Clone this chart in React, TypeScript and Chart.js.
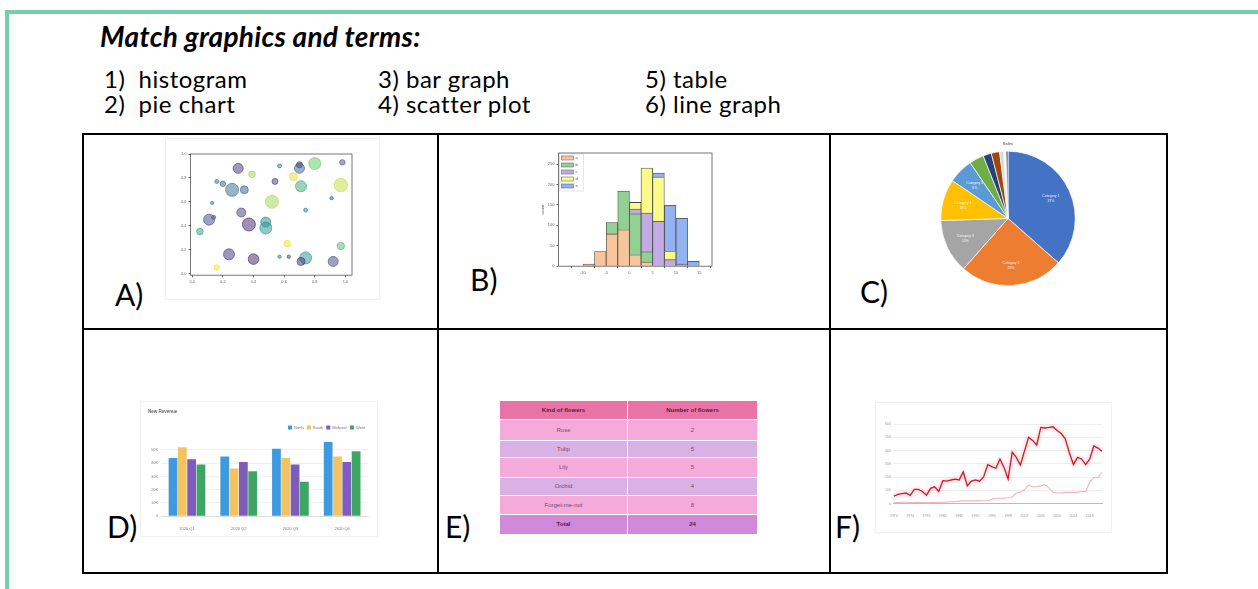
import React, { useEffect, useRef } from "react";
import { Chart, registerables } from "chart.js";
Chart.register(...registerables);

// ---------- A) scatter plot ----------
const scatterX = [0.30, 0.39, 0.57, 0.70, 0.70, 0.80, 0.98, 0.66, 0.54, 0.16, 0.20, 0.26, 0.34, 0.71, 0.97, 0.52, 0.13, 0.91, 0.32, 0.74, 0.11, 0.14, 0.37, 0.48, 0.48, 0.05, 0.62, 0.97, 0.24, 0.40, 0.57, 0.63, 0.74, 0.71, 0.92, 0.16];
const scatterY = [0.88, 0.83, 0.90, 0.88, 0.91, 0.92, 0.93, 0.81, 0.77, 0.77, 0.75, 0.70, 0.70, 0.73, 0.74, 0.60, 0.59, 0.63, 0.51, 0.53, 0.45, 0.47, 0.41, 0.43, 0.38, 0.35, 0.25, 0.23, 0.16, 0.12, 0.14, 0.14, 0.13, 0.10, 0.10, 0.05];
const scatterSize = [5, 3.3, 2, 5, 3, 6, 2.7, 4, 3, 2, 2.7, 6.5, 4, 5.5, 6.7, 6.5, 1.7, 1.7, 4.5, 2, 5.5, 2, 6.5, 5, 6, 3.3, 3.3, 3.7, 5.5, 5.3, 1.7, 1.7, 6, 4, 5, 2.7];
const scatterColorValue = [0.15, 0.85, 0.45, 0.3, 0.2, 0.75, 0.25, 0.95, 0.2, 0.4, 0.3, 0.35, 0.3, 0.6, 0.9, 0.85, 0.4, 0.3, 0.2, 0.45, 0.2, 0.3, 0.1, 0.45, 0.5, 0.55, 0.97, 0.7, 0.15, 0.1, 0.4, 0.2, 0.5, 0.15, 0.2, 0.97];
const scatterTicks = [0, 0.2, 0.4, 0.6, 0.8, 1.0];

// ---------- B) histogram ----------
const histBinCenters = [-11.25, -8.75, -6.25, -3.75, -1.25, 1.25, 3.75, 6.25, 8.75, 11.25, 13.75];
const histTicks = [-10, -5, 0, 5, 10, 15];
const histCountTicks = [0, 50, 100, 150, 200, 250];
const histSeriesNames = ["a", "b", "c", "d", "e"];
const histOrange = [0, 5, 36, 79, 89, 28, 10, 0, 0, 0, 0];
const histGreen = [0, 0, 0, 28, 95, 100, 25, 0, 0, 0, 0];
const histPurple = [0, 0, 0, 0, 0, 12, 95, 110, 16, 5, 0];
const histYellow = [0, 0, 0, 0, 0, 16, 110, 108, 20, 0, 0];
const histBlue = [0, 0, 0, 0, 0, 0, 0, 10, 113, 112, 12];

// ---------- C) pie chart ----------
const pieTitle = "Sales";
const pieLabels = ["Category 1", "Category 2", "Category 3", "Category 4", "Category 5", "Category 6", "Category 7", "Category 8", "Category 9", "Category 10", "Category 11"];
const pieValues = [36.5, 25, 13, 10, 6, 3.5, 2, 2, 1, 0.5, 0.5];

// ---------- D) bar graph ----------
const barTitle = "New Revenue";
const barQuarters = ["2020 Q1", "2020 Q2", "2020 Q3", "2020 Q4"];
const barSeriesNames = ["North", "South", "Midwest", "West"];
const barTicks = [0, 10, 20, 30, 40, 50];
const barNorth = [44, 45, 51, 56];
const barSouth = [52, 36, 44, 45];
const barMidwest = [43, 41, 39, 41];
const barWest = [39, 34, 26, 49];

// ---------- E) table ----------
const tableHeader = ["Kind of flowers", "Number of flowers"];
const tableKinds = ["Rose", "Tulip", "Lily", "Orchid", "Forget-me-not"];
const tableCounts = [2, 5, 5, 4, 8];
const tableTotalLabel = "Total";

// ---------- F) line graph ----------
const lineLabels = Array.from({ length: 52 }, (_, i) => String(1970 + i));
const lineTicks = [0, 100, 200, 300, 400, 500, 600];
const lineRed = [58, 70, 77, 81, 63, 109, 109, 93, 65, 116, 128, 93, 174, 170, 179, 186, 179, 240, 135, 170, 179, 170, 202, 295, 279, 267, 337, 272, 186, 388, 349, 291, 395, 500, 477, 442, 574, 570, 574, 579, 551, 528, 488, 384, 295, 349, 337, 295, 337, 435, 419, 395];
const linePink = [8, 10, 12, 12, 10, 10, 12, 10, 8, 10, 10, 12, 12, 14, 15, 16, 20, 22, 22, 22, 22, 22, 23, 23, 35, 42, 42, 42, 45, 51, 81, 86, 105, 140, 128, 128, 135, 144, 120, 86, 81, 81, 86, 86, 86, 86, 93, 93, 163, 198, 198, 237];

// ---------- terms ----------
const titleText = "Match graphics and terms:";
const termsCol1 = ["1)  histogram", "2)  pie chart"];
const termsCol2 = ["3) bar graph", "4) scatter plot"];
const termsCol3 = ["5) table", "6) line graph"];
const cellLabels = ["A)", "B)", "C)", "D)", "E)", "F)"];

const viridisStops = [[68, 1, 84], [59, 82, 139], [33, 145, 140], [94, 201, 98], [253, 231, 37]];
function viridis(t: number, a: number) {
  const p = Math.max(0, Math.min(1, t)) * (viridisStops.length - 1);
  const i = Math.min(viridisStops.length - 2, Math.floor(p));
  const f = p - i;
  const c = viridisStops[i].map((v, k) => Math.round(v + (viridisStops[i + 1][k] - v) * f));
  return `rgba(${c[0]},${c[1]},${c[2]},${a})`;
}

const tinyFont = { family: "Liberation Sans", size: 4 };

const framePlugin = {
  id: "frame",
  afterDraw(chart: any, _a: any, opts: any) {
    if (!opts || !opts.color) return;
    const { ctx, chartArea } = chart;
    ctx.save();
    ctx.strokeStyle = opts.color;
    ctx.lineWidth = opts.width || 1;
    ctx.strokeRect(chartArea.left, chartArea.top, chartArea.right - chartArea.left, chartArea.bottom - chartArea.top);
    ctx.restore();
  },
};

const histLegendPlugin = {
  id: "histLegend",
  afterDatasetsDraw(chart: any) {
    const { ctx, chartArea } = chart;
    const ds = chart.data.datasets;
    ctx.save();
    const x0 = chartArea.left + 1;
    const y0 = chartArea.top + 1;
    const rowH = 7;
    ctx.fillStyle = "rgba(255,255,255,0.8)";
    ctx.strokeStyle = "#ccc";
    ctx.lineWidth = 0.5;
    ctx.fillRect(x0, y0, 24, rowH * ds.length + 2);
    ctx.strokeRect(x0, y0, 24, rowH * ds.length + 2);
    ds.forEach((d: any, i: number) => {
      ctx.fillStyle = d.backgroundColor;
      ctx.fillRect(x0 + 2, y0 + 2 + i * rowH, 12, 4);
      ctx.strokeStyle = "#555";
      ctx.strokeRect(x0 + 2, y0 + 2 + i * rowH, 12, 4);
      ctx.fillStyle = "#444";
      ctx.font = "4px Liberation Sans";
      ctx.textBaseline = "top";
      ctx.fillText(d.label, x0 + 16, y0 + 2 + i * rowH);
    });
    ctx.restore();
  },
};

const pieLabelPlugin = {
  id: "pieLabels",
  afterDatasetsDraw(chart: any) {
    const { ctx } = chart;
    const meta = chart.getDatasetMeta(0);
    const vals = chart.data.datasets[0].data;
    const total = vals.reduce((s: number, v: number) => s + v, 0);
    ctx.save();
    ctx.fillStyle = "rgba(255,255,255,0.9)";
    ctx.font = "3.5px Liberation Sans";
    ctx.textAlign = "center";
    ctx.textBaseline = "middle";
    meta.data.forEach((arc: any, i: number) => {
      if (vals[i] < 5) return;
      const r = arc.outerRadius;
      const ang = (arc.startAngle + arc.endAngle) / 2;
      const px = arc.x + Math.cos(ang) * r * 0.7;
      const py = arc.y + Math.sin(ang) * r * 0.7;
      ctx.fillText(chart.data.labels[i], px, py - 2.5);
      ctx.fillText(Math.round((vals[i] / total) * 100) + "%", px, py + 2.5);
    });
    ctx.restore();
  },
};

const glowPlugin = {
  id: "glow",
  beforeDatasetDraw(chart: any, args: any) {
    if (args.index === 0) {
      chart.ctx.save();
      chart.ctx.shadowColor = "rgba(255,90,110,0.7)";
      chart.ctx.shadowBlur = 4;
    }
  },
  afterDatasetDraw(chart: any, args: any) {
    if (args.index === 0) chart.ctx.restore();
  },
};

function scatterConfig(): any {
  return {
    type: "bubble",
    data: {
      datasets: [
        {
          data: scatterX.map((x, i) => ({ x, y: scatterY[i], r: scatterSize[i] })),
          backgroundColor: scatterColorValue.map((c) => viridis(c, 0.5)),
          borderColor: scatterColorValue.map((c) => viridis(c, 0.75)),
          borderWidth: 0.8,
        },
      ],
    },
    options: {
      animation: false,
      responsive: false,
      devicePixelRatio: 1,
      layout: { padding: { left: 13, right: 27, top: 15, bottom: 13 } },
      plugins: { legend: { display: false }, tooltip: { enabled: false }, frame: { color: "#555", width: 0.8 } },
      scales: {
        x: {
          type: "linear", min: -0.011, max: 1.043,
          afterBuildTicks: (s: any) => { s.ticks = scatterTicks.map((v) => ({ value: v })); },
          ticks: { font: tinyFont, color: "#666", padding: 2, callback: (v: any) => Number(v).toFixed(1) },
          grid: { drawOnChartArea: false, tickLength: 2, color: "#666" },
          border: { display: false },
        },
        y: {
          type: "linear", min: -0.015, max: 1.0,
          afterBuildTicks: (s: any) => { s.ticks = scatterTicks.map((v) => ({ value: v })); },
          ticks: { font: tinyFont, color: "#666", padding: 2, callback: (v: any) => Number(v).toFixed(1) },
          grid: { drawOnChartArea: false, tickLength: 2, color: "#666" },
          border: { display: false },
        },
      },
    },
    plugins: [framePlugin],
  };
}

function histConfig(): any {
  const series = [histOrange, histGreen, histPurple, histYellow, histBlue];
  const colors = ["#f6c59c", "#93d193", "#c2abe2", "#fbfb88", "#92b2f0"];
  return {
    type: "bar",
    data: {
      datasets: series.map((s, k) => ({
        label: histSeriesNames[k],
        data: s.map((v, i) => ({ x: histBinCenters[i], y: v })),
        backgroundColor: colors[k],
        borderColor: "#4a4a4a",
        borderWidth: 0.8,
        barPercentage: 1,
        categoryPercentage: 1,
      })),
    },
    options: {
      animation: false,
      responsive: false,
      devicePixelRatio: 1,
      layout: { padding: { left: 17, right: 8, top: 13, bottom: 15 } },
      plugins: { legend: { display: false }, tooltip: { enabled: false }, frame: { color: "#555", width: 0.8 } },
      scales: {
        x: {
          type: "linear", stacked: true, min: -12.5, max: 15,
          afterBuildTicks: (s: any) => { s.ticks = histTicks.map((v) => ({ value: v })); },
          ticks: { font: tinyFont, color: "#666", padding: 2 },
          grid: { drawOnChartArea: false, tickLength: 2, color: "#666" },
          border: { display: false },
        },
        y: {
          stacked: true, min: 0, max: 277,
          afterBuildTicks: (s: any) => { s.ticks = histCountTicks.map((v) => ({ value: v })); },
          title: { display: true, text: "count", font: tinyFont, color: "#555", padding: 1 },
          ticks: { font: tinyFont, color: "#666", padding: 2 },
          grid: { drawOnChartArea: false, tickLength: 2, color: "#666" },
          border: { display: false },
        },
      },
    },
    plugins: [framePlugin, histLegendPlugin],
  };
}

function pieConfig(): any {
  return {
    type: "pie",
    data: {
      labels: pieLabels,
      datasets: [
        {
          data: pieValues,
          backgroundColor: ["#4472c4", "#ed7d31", "#a5a5a5", "#ffc000", "#5b9bd5", "#70ad47", "#264478", "#9e480e", "#d9d9d9", "#f2f2f2", "#636363"],
          borderColor: "#ffffff",
          borderWidth: 0.7,
        },
      ],
    },
    options: {
      animation: false,
      responsive: false,
      devicePixelRatio: 1,
      layout: { padding: { left: 0, right: 0, top: 2, bottom: 3 } },
      plugins: {
        legend: { display: false },
        tooltip: { enabled: false },
        title: { display: true, text: pieTitle, font: { family: "Liberation Sans", size: 4 }, color: "#777", padding: { top: 0, bottom: 5 } },
      },
    },
    plugins: [pieLabelPlugin],
  };
}

function barConfig(): any {
  const series = [barNorth, barSouth, barMidwest, barWest];
  const colors = ["#3d9ade", "#f4c361", "#7d5cbb", "#3ea664"];
  return {
    type: "bar",
    data: {
      labels: barQuarters,
      datasets: series.map((s, k) => ({
        label: barSeriesNames[k],
        data: s,
        backgroundColor: colors[k],
        barPercentage: 0.94,
        categoryPercentage: 0.72,
      })),
    },
    options: {
      animation: false,
      responsive: false,
      devicePixelRatio: 1,
      layout: { padding: { left: 7, right: 9, top: 7, bottom: 3 } },
      plugins: {
        tooltip: { enabled: false },
        title: { display: true, text: barTitle, align: "start", font: { family: "Liberation Sans", size: 4.5 }, color: "#666", padding: { top: 0, bottom: 8 } },
        legend: { position: "top", align: "end", labels: { boxWidth: 4, boxHeight: 4, font: tinyFont, color: "#777", padding: 3 } },
      },
      scales: {
        x: {
          ticks: { font: tinyFont, color: "#777", padding: 2 },
          grid: { display: false },
          border: { color: "#ddd" },
        },
        y: {
          min: 0, max: 58,
          afterBuildTicks: (s: any) => { s.ticks = barTicks.map((v) => ({ value: v })); },
          ticks: { font: tinyFont, color: "#888", padding: 3, callback: (v: any) => (v === 0 ? "0" : v + "K") },
          grid: { color: "#f0f0f0", tickLength: 0 },
          border: { display: false },
        },
      },
    },
  };
}

function lineConfig(): any {
  return {
    type: "line",
    data: {
      labels: lineLabels,
      datasets: [
        { data: lineRed, borderColor: "#c3202e", borderWidth: 1.3, pointRadius: 0, tension: 0 },
        { data: linePink, borderColor: "#f0b3bd", borderWidth: 1.1, pointRadius: 0, tension: 0 },
      ],
    },
    options: {
      animation: false,
      responsive: false,
      devicePixelRatio: 1,
      layout: { padding: { left: 6, right: 9, top: 21, bottom: 12 } },
      plugins: { legend: { display: false }, tooltip: { enabled: false } },
      scales: {
        x: {
          ticks: { font: { family: "Liberation Sans", size: 3.5 }, color: "#999", padding: 2, maxRotation: 0, autoSkip: true, maxTicksLimit: 17 },
          grid: { display: false },
          border: { color: "#bbb" },
        },
        y: {
          min: 0, max: 600,
          afterBuildTicks: (s: any) => { s.ticks = lineTicks.map((v) => ({ value: v })); },
          ticks: { font: { family: "Liberation Sans", size: 3.5 }, color: "#999", padding: 3 },
          grid: { color: "#eeeeee", tickLength: 0 },
          border: { display: false },
        },
      },
    },
    plugins: [glowPlugin],
  };
}

function ChartBox({ make, left, top, w, h, frame }: any) {
  const ref = useRef<HTMLCanvasElement>(null);
  useEffect(() => {
    const c = new Chart(ref.current as HTMLCanvasElement, make());
    return () => c.destroy();
  }, []);
  return (
    <div style={{ position: "absolute", left, top, width: w, height: h, border: frame ? "1px solid #f1f1f1" : "none", boxSizing: "border-box" }}>
      <canvas ref={ref} width={frame ? w - 2 : w} height={frame ? h - 2 : h} style={{ display: "block" }} />
    </div>
  );
}

function FlowerTable() {
  const rowColors = ["#f5abd9", "#d9b1e5", "#f5abd9", "#d9b1e5", "#f5abd9"];
  const rowHeights = [21, 18, 20, 19, 19];
  const cell = (txt: any, bg: string, h: number, bold: boolean, leftCol: boolean) => (
    <div style={{ width: leftCol ? 128 : 129, height: h, background: bg, display: "flex", alignItems: "center", justifyContent: "center", fontFamily: "Liberation Sans", fontSize: 6, fontWeight: bold ? 700 : 400, color: bold ? "#5b1d3c" : "#7a4a68", borderRight: leftCol ? "1px solid #fff" : "none", boxSizing: "border-box" }}>{txt}</div>
  );
  const total = tableCounts.reduce((s, v) => s + v, 0);
  return (
    <div style={{ position: "absolute", left: 500, top: 401, width: 257 }}>
      <div style={{ display: "flex", borderBottom: "1.5px solid #fff" }}>
        {cell(tableHeader[0], "#e873a6", 18, true, true)}
        {cell(tableHeader[1], "#e873a6", 18, true, false)}
      </div>
      {tableKinds.map((k, i) => (
        <div key={k} style={{ display: "flex", borderBottom: "1.5px solid #fff" }}>
          {cell(k, rowColors[i], rowHeights[i] - 1.5, false, true)}
          {cell(tableCounts[i], rowColors[i], rowHeights[i] - 1.5, false, false)}
        </div>
      ))}
      <div style={{ display: "flex" }}>
        {cell(tableTotalLabel, "#d08ad9", 19, true, true)}
        {cell(total, "#d08ad9", 19, true, false)}
      </div>
    </div>
  );
}

const textFont = "Lato, 'Open Sans', sans-serif";

export default function App() {
  useEffect(() => {
    document.body.style.margin = "0";
  }, []);
  const line = (x: number, y: number, w: number, h: number) => (
    <div style={{ position: "absolute", left: x, top: y, width: w, height: h, background: "#000" }} />
  );
  const txt = (s: string, x: number, top: number, size: number, extra: any = {}) => (
    <div style={{ position: "absolute", left: x, top, fontFamily: textFont, fontSize: size, lineHeight: 1.2, whiteSpace: "pre", color: "#000", ...extra }}>{s}</div>
  );
  const labelPos = [[115, 276], [470, 261], [860, 273], [107, 508], [445, 508], [835, 508]];
  const termStyle = { letterSpacing: 0.5 };
  return (
    <div style={{ position: "fixed", left: 0, top: 0, width: 1258, height: 589, background: "#fff", overflow: "hidden" }}>
      <div style={{ position: "absolute", left: 5, top: 10, width: 1300, height: 600, borderTop: "4px solid #76cfa9", borderLeft: "4px solid #76cfa9" }} />
      {txt(titleText, 100, 19.5, 28, { fontWeight: 700, fontStyle: "italic", letterSpacing: 0.3 })}
      {termsCol1.map((s, i) => txt(s, 104, 64.5 + i * 25, 24, termStyle))}
      {termsCol2.map((s, i) => txt(s, 378, 64.5 + i * 25, 24, termStyle))}
      {termsCol3.map((s, i) => txt(s, 645, 64.5 + i * 25, 24, termStyle))}

      {line(82, 133, 1086, 2)}
      {line(82, 572, 1086, 2)}
      {line(82, 133, 2, 441)}
      {line(1166, 133, 2, 441)}
      {line(437, 133, 2, 441)}
      {line(829, 133, 2, 441)}
      {line(82, 328, 1086, 2)}

      <ChartBox make={scatterConfig} left={165} top={138} w={215} h={162} frame />
      <ChartBox make={histConfig} left={522} top={140} w={198} h={152} />
      <ChartBox make={pieConfig} left={918} top={139} w={180} h={150} />
      <ChartBox make={barConfig} left={140} top={401} w={238} h={136} frame />
      <FlowerTable />
      <ChartBox make={lineConfig} left={875} top={402} w={237} h={131} frame />

      {cellLabels.map((s, i) => txt(s, labelPos[i][0], labelPos[i][1], 30))}
    </div>
  );
}
